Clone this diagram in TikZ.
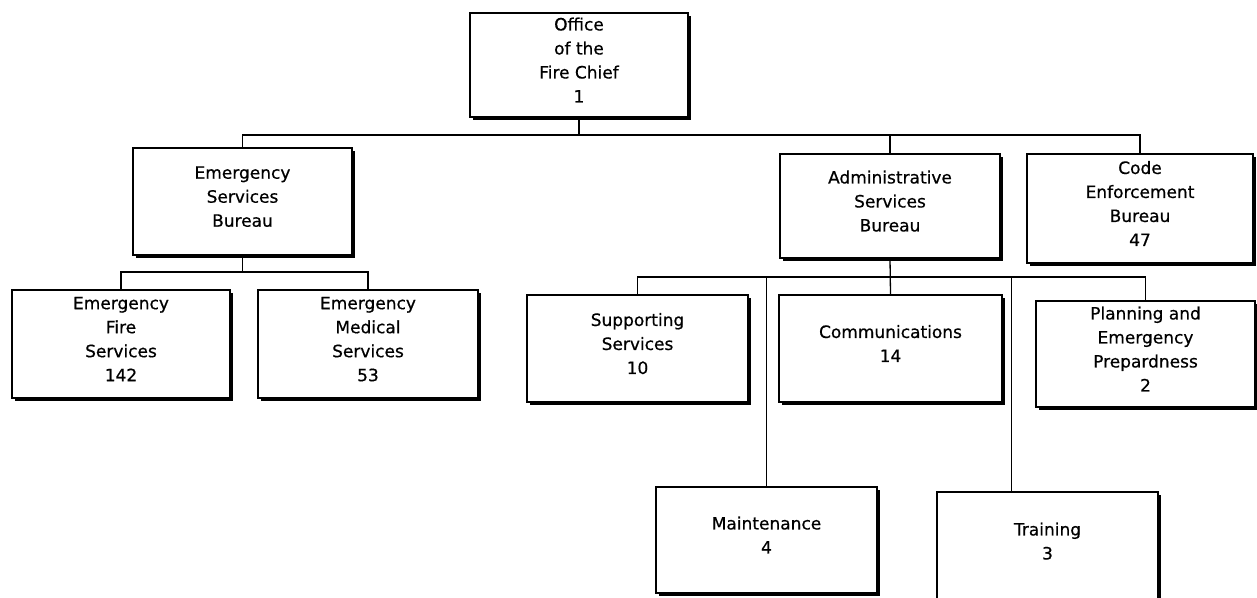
\documentclass[tikz,border=0pt]{standalone}
\usepackage{fontspec}
\setmainfont[UprightFeatures={FakeBold=0.6}]{DejaVu Sans}
\usetikzlibrary{shadows}
\begin{document}
\begin{tikzpicture}[x=1pt,y=-1pt,line width=1.6pt,font=\fontsize{17}{24}\selectfont,
  orgbox/.style 2 args={draw,fill=white,align=center,inner sep=0pt,
    minimum width=#1pt,minimum height=#2pt,
    drop shadow={shadow xshift=2.5pt,shadow yshift=-2.5pt,opacity=1,fill=black},
    execute at end node={\rule[-10pt]{0pt}{0pt}}},
  link/.style={line width=1.3pt},
  thinlink/.style={line width=0.9pt}]
  \useasboundingbox (0,0) rectangle (1257,597);
  % top
  \node[orgbox={218}{104}] (chief) at (579,65) {Office\\of the\\Fire Chief\\1};
  % bureaus
  \node[orgbox={219}{107}] (esb) at (242.5,201.5) {Emergency\\Services\\Bureau};
  \node[orgbox={220}{104}] (asb) at (890,206) {Administrative\\Services\\Bureau};
  \node[orgbox={226}{109}] (ceb) at (1140,208.5) {Code\\Enforcement\\Bureau\\47};
  % emergency services
  \node[orgbox={218}{108}] (efs) at (121,344) {Emergency\\Fire\\Services\\142};
  \node[orgbox={220}{108}] (ems) at (368,344) {Emergency\\Medical\\Services\\53};
  % administrative services
  \node[orgbox={221}{107}] (sup) at (637.5,348.5) {Supporting\\Services\\10};
  \node[orgbox={223}{107}] (com) at (890.5,348.5) {Communications\\14};
  \node[orgbox={219}{106}] (plan) at (1145.5,354) {Planning and\\Emergency\\Prepardness\\2};
  \node[orgbox={221}{106}] (maint) at (766.5,540) {Maintenance\\4};
  \node[orgbox={221}{108}] (train) at (1047.5,546) {Training\\3};
  % connectors
  \coordinate (topbus) at (579,135);
  \coordinate (esbus) at (242.5,272);
  \coordinate (asbus) at (890,277);
  \coordinate (trainjoin) at (1011,277);
  \draw[link] (chief.south) -- (topbus);
  \draw[link] (esb.north) |- (topbus) -| (ceb.north);
  \draw[link] (topbus) -| (asb.north);
  \draw[link] (esb.south) -- (esbus);
  \draw[link] (efs.north) |- (esbus) -| (ems.north);
  \draw[link] (asb.south) -- (com.north);
  \draw[link] (sup.north) |- (asbus) -| (plan.north);
  \draw[thinlink] (maint.north) -- (maint.north |- asbus);
  \draw[thinlink] (trainjoin) -- (trainjoin |- train.north);
\end{tikzpicture}
\end{document}
